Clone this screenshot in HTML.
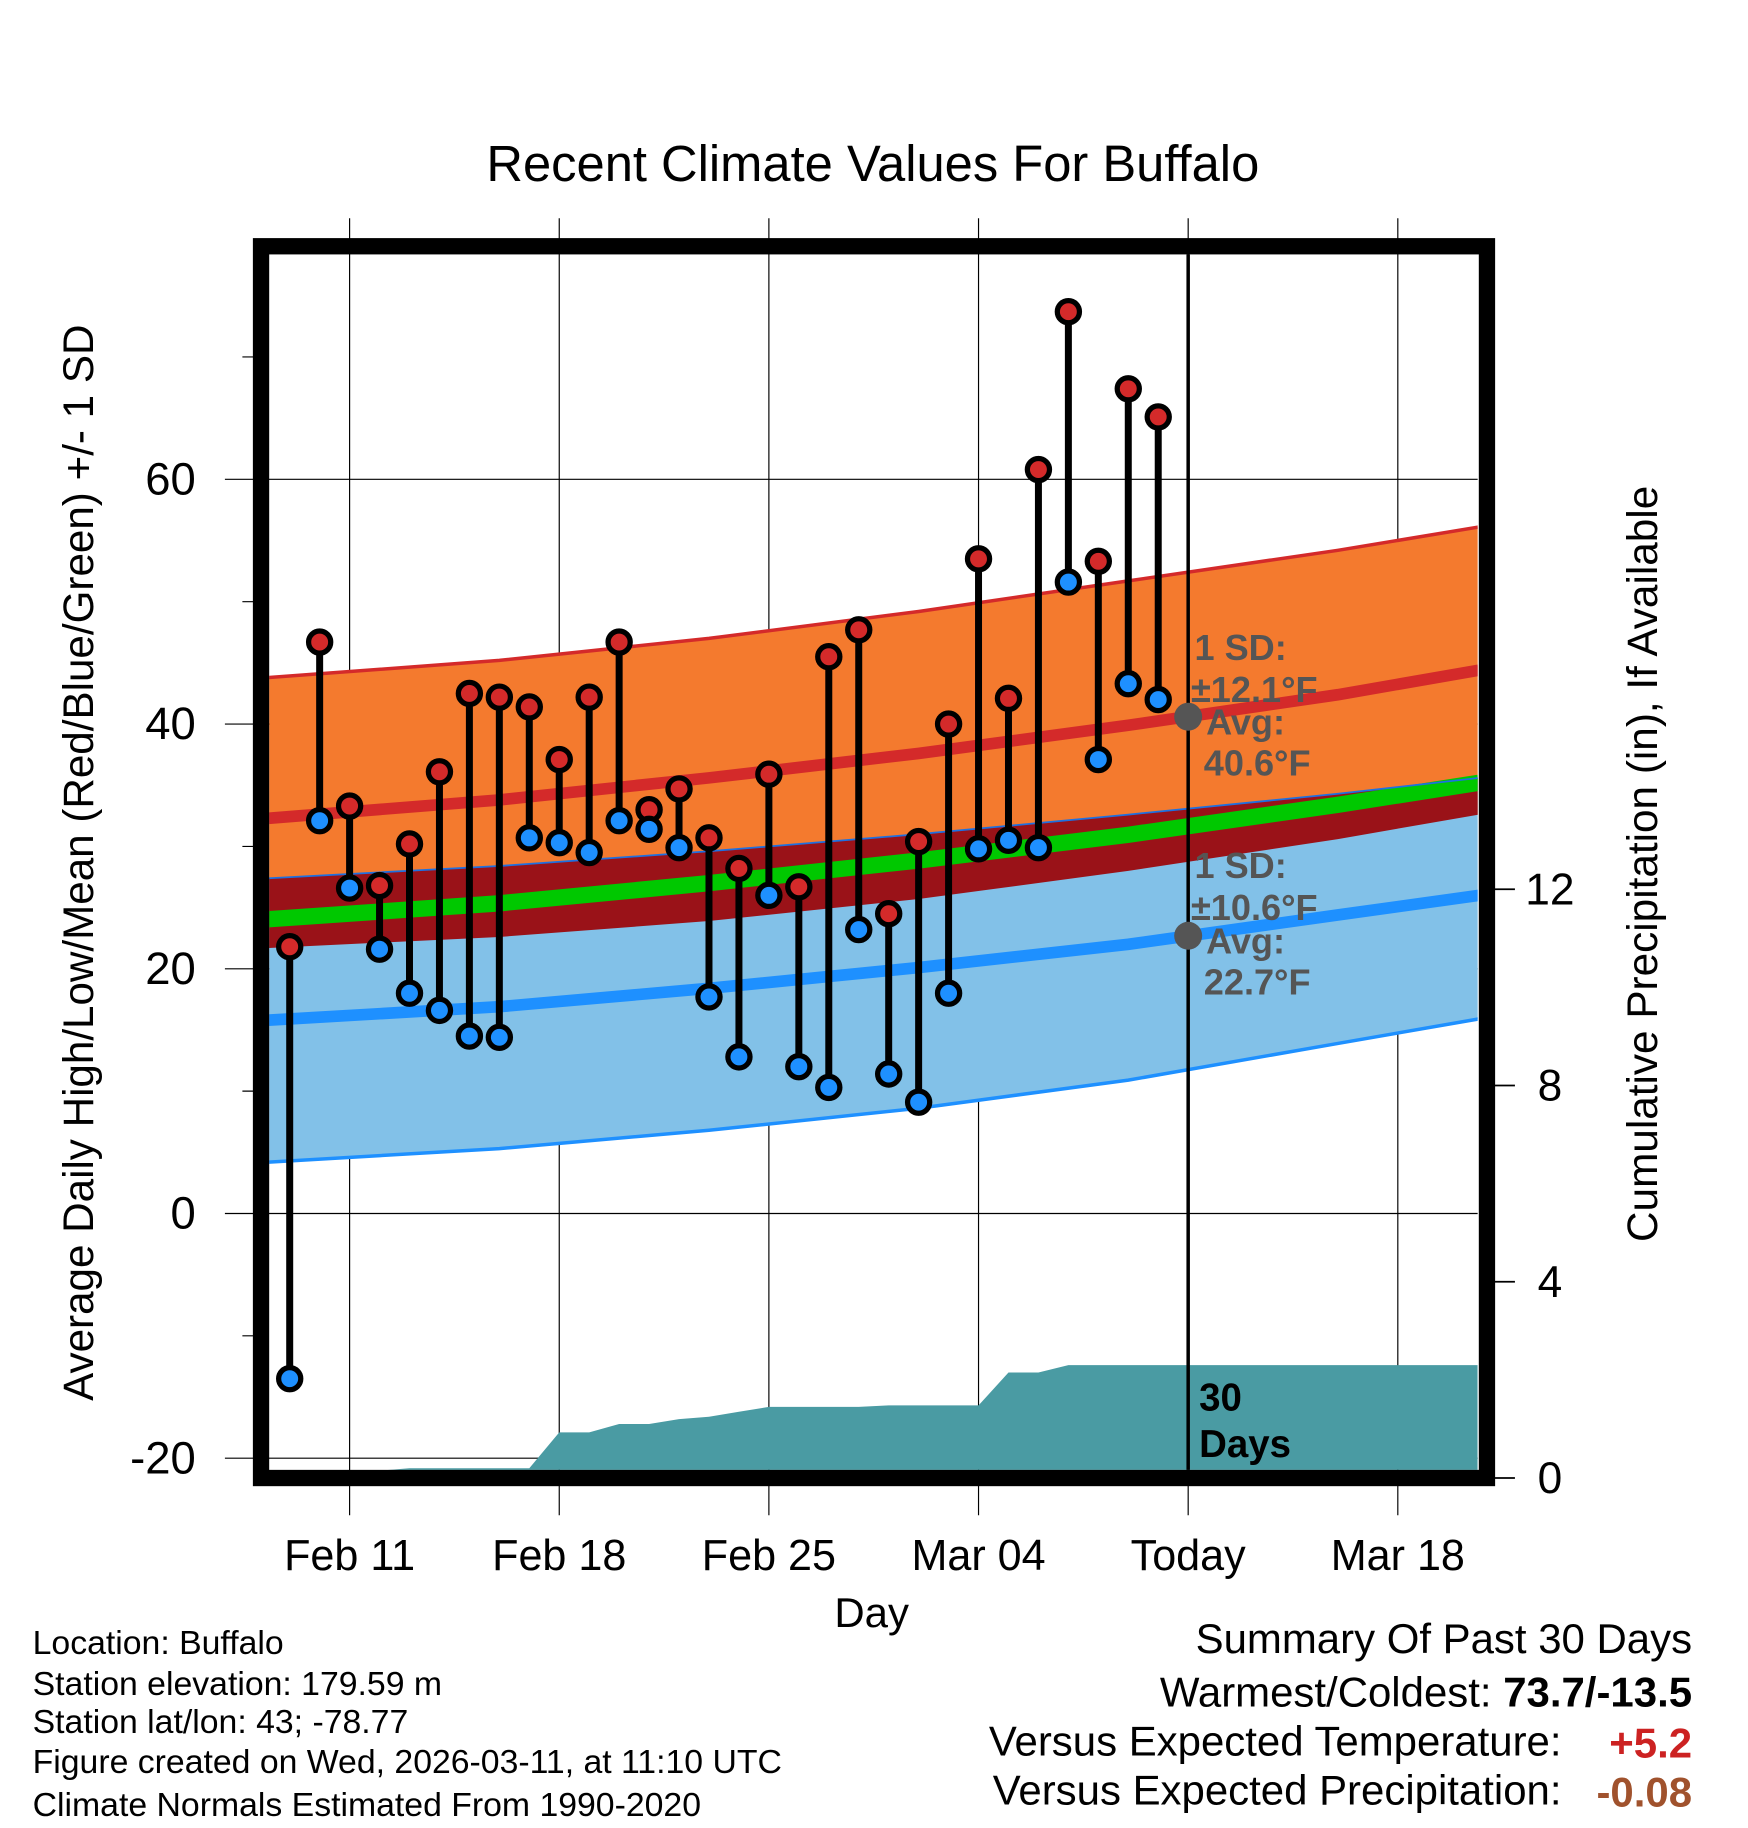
<!DOCTYPE html>
<html><head><meta charset="utf-8"><style>
html,body{margin:0;padding:0;background:#fff;}
svg{display:block;font-family:"Liberation Sans",Arial,sans-serif;}
</style></head><body>
<svg id="chart" width="1748" height="1828" viewBox="0 0 1500 1568" xmlns="http://www.w3.org/2000/svg">
<defs><clipPath id="plotclip"><rect x="231" y="218" width="1037" height="1043"/></clipPath></defs>
<text x="749" y="155" font-size="43.5" text-anchor="middle">Recent Climate Values For Buffalo</text>
<g id="grid"></g>
<g id="bands" clip-path="url(#plotclip)"></g>
<g id="precip" clip-path="url(#plotclip)"></g>
<g id="marks"></g>
<rect x="224" y="211" width="1052" height="1057" fill="none" stroke="#000" stroke-width="14"/>
<g id="axes"></g>
<text transform="translate(80,740) rotate(-90)" font-size="36.2" text-anchor="middle">Average Daily High/Low/Mean (Red/Blue/Green) +/- 1 SD</text>
<text transform="translate(1422,741) rotate(-90)" font-size="36.3" text-anchor="middle">Cumulative Precipitation (in), If Available</text>
<text x="748" y="1396" font-size="36" text-anchor="middle">Day</text>
<g font-size="29" textLength="0">
<text x="28" y="1419">Location: Buffalo</text>
<text x="28" y="1454">Station elevation: 179.59 m</text>
<text x="28" y="1487">Station lat/lon: 43; -78.77</text>
<text x="28" y="1521">Figure created on Wed, 2026-03-11, at 11:10 UTC</text>
<text x="28" y="1558">Climate Normals Estimated From 1990-2020</text>
</g>
<g font-size="36" text-anchor="end">
<text x="1452" y="1418">Summary Of Past 30 Days</text>
<text x="1452" y="1464">Warmest/Coldest: <tspan font-weight="bold">73.7/-13.5</tspan></text>
<text x="1340" y="1506">Versus Expected Temperature:</text>
<text x="1452" y="1508" font-weight="bold" fill="#cc2222">+5.2</text>
<text x="1340" y="1548">Versus Expected Precipitation:</text>
<text x="1452" y="1550" font-weight="bold" fill="#a0522d">-0.08</text>
</g>
<g font-size="31" font-weight="bold" fill="#555">
<text x="1025" y="566">1 SD:</text><text x="1022" y="602">±12.1°F</text>
<text x="1035" y="630">Avg:</text><text x="1033" y="665">40.6°F</text>
<text x="1025" y="753">1 SD:</text><text x="1022" y="789">±10.6°F</text>
<text x="1035" y="818">Avg:</text><text x="1033" y="853">22.7°F</text>
</g>
<g font-size="33" font-weight="bold">
<text x="1029" y="1210">30</text><text x="1029" y="1250">Days</text>
</g>
<script>
const days=[-2,-1,0,1,2,3,4,5,6,7,8,9,10,11,12,13,14,15,16,17,18,19,20,21,22,23,24,25,26,27];
const highs=[21.8,46.7,33.3,26.8,30.2,36.1,42.5,42.2,41.4,37.1,42.2,46.7,33.0,34.7,30.7,28.2,35.9,26.7,45.5,47.7,24.5,30.4,40.0,53.5,42.1,60.8,73.7,53.3,67.4,65.1];
const lows=[-13.5,32.1,26.6,21.6,18.0,16.6,14.5,14.4,30.7,30.3,29.5,32.1,31.4,29.9,17.7,12.8,26.0,12.0,10.3,23.2,11.4,9.1,18.0,29.8,30.5,29.9,51.6,37.1,43.3,42.0];
const precipCum=[0.15,0.15,0.15,0.15,0.2,0.2,0.2,0.2,0.2,0.93,0.93,1.1,1.1,1.2,1.25,1.35,1.45,1.45,1.45,1.45,1.48,1.48,1.48,1.48,2.15,2.15,2.3,2.3,2.3,2.3];
const knots=[-2.7,5,12,19,26,33,37.7];
const highTop=[43.8,45.2,47.0,49.2,51.7,54.2,56.1];
const highMean=[32.3,33.8,35.6,37.6,39.9,42.4,44.4];
const highBot=[21.7,22.6,23.9,25.7,28.0,30.6,32.6];
const lowTop=[27.4,28.4,29.6,31.0,32.6,34.3,35.6];
const lowMean=[15.8,16.9,18.4,20.1,22.0,24.4,26.0];
const lowBot=[4.2,5.3,6.8,8.6,10.9,13.9,15.9];
const xTickDays=[0,7,14,21,28,35];
const xTickLabels=["Feb 11","Feb 18","Feb 25","Mar 04","Today","Mar 18"];
const yTicks=[60,40,20,0,-20];
const yMinor=[70,50,30,10,-10];
const pTicks=[0,4,8,12];
const todayDay=28, todayHigh=40.6, todayLow=22.7;

const NS="http://www.w3.org/2000/svg";
const X=d=>300+d*25.7;
const Y=v=>1041-v*10.5;
const P=p=>1268-p*42.1;
function mk(parent,tag,attrs){const e=document.createElementNS(NS,tag);for(const k in attrs)e.setAttribute(k,attrs[k]);parent.appendChild(e);return e;}
const grid=document.getElementById('grid'),bands=document.getElementById('bands'),precip=document.getElementById('precip'),marks=document.getElementById('marks'),axes=document.getElementById('axes');

xTickDays.forEach((d,i)=>{
  const l=mk(grid,'line',{x1:X(d),x2:X(d),y1:187,y2:1300,stroke:'#000','stroke-width':1});
  
  
  const t=mk(axes,'text',{x:X(d),y:1347,'font-size':37,'text-anchor':'middle'});
  t.textContent=xTickLabels[i];
  
  
});
yTicks.forEach(v=>{
  const l=mk(grid,'line',{x1:193,x2:1268,y1:Y(v),y2:Y(v),stroke:'#000','stroke-width':1});
  
  
  const t=mk(axes,'text',{x:168,y:Y(v)+13,'font-size':39,'text-anchor':'end'});
  t.textContent=v;
  
  
});
yMinor.forEach(v=>{
  const l=mk(grid,'line',{x1:208,x2:224,y1:Y(v),y2:Y(v),stroke:'#000','stroke-width':1});
  
  
});
pTicks.forEach(p=>{
  const l=mk(axes,'line',{x1:1276,x2:1300,y1:P(p),y2:P(p),stroke:'#000','stroke-width':1.5});
  
  
  const t=mk(axes,'text',{x:1330,y:P(p)+13,'font-size':38,'text-anchor':'middle'});
  t.textContent=p;
  
  
});

const pts=arr=>knots.map((d,i)=>X(d)+','+Y(arr[i]));
function band(top,bot,fill,name){
  const pg=mk(bands,'polygon',{points:pts(top).concat(pts(bot).reverse()).join(' '),fill:fill});
  
  
}
band(highTop,highBot,'#f47a2e','high-sd-band');
band(lowTop,lowBot,'#82c1e8','low-sd-band');
band(lowTop,highBot,'#9a1218','overlap-band');
function line(arr,col,w,name){
  const pl=mk(bands,'polyline',{points:pts(arr).join(' '),fill:'none',stroke:col,'stroke-width':w});
  
  
}
const meanAvg=highMean.map((v,i)=>(v+lowMean[i])/2);
line(meanAvg,'#00c800',14,'mean-normal-line');
line(highMean,'#d42a2a',10,'high-normal-line');
line(lowMean,'#1e90ff',10,'low-normal-line');
line(highTop,'#d42a2a',3,'high-sd-top-line');
line(lowBot,'#1e90ff',3,'low-sd-bottom-line');
line(lowTop,'#1e70e0',1.5,'low-sd-top-line');

let pp=[X(days[0]-1)+','+P(precipCum[0])];
days.forEach((d,i)=>pp.push(X(d)+','+P(precipCum[i])));
pp.push('1268,'+P(precipCum[precipCum.length-1]),'1268,1270',X(days[0]-1)+',1270');
const pa=mk(precip,'polygon',{points:pp.join(' '),fill:'#4a9ba3'});



const tl=mk(marks,'line',{x1:X(todayDay),x2:X(todayDay),y1:218,y2:1261,stroke:'#000','stroke-width':3});


[todayHigh,todayLow].forEach(v=>{
  const c=mk(marks,'circle',{cx:X(todayDay),cy:Y(v),r:12,fill:'#555'});
  
  
});

days.forEach((d,i)=>{
  const s=mk(marks,'line',{x1:X(d),x2:X(d),y1:Y(highs[i]),y2:Y(lows[i]),stroke:'#000','stroke-width':6});
  
  
  const h=mk(marks,'circle',{cx:X(d),cy:Y(highs[i]),r:9.5,fill:'#d42a2a',stroke:'#000','stroke-width':4.5});
  
  
  const l=mk(marks,'circle',{cx:X(d),cy:Y(lows[i]),r:9.5,fill:'#1e90ff',stroke:'#000','stroke-width':4.5});
  
  
});
</script>
</svg>
</body></html>
